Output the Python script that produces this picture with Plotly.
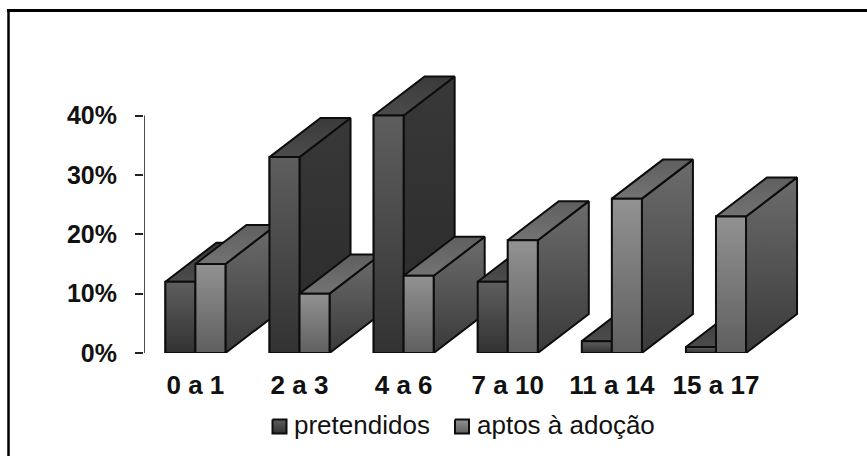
import plotly.graph_objects as go

# Age bands and share of each group (percent)
categories = ["0 a 1", "2 a 3", "4 a 6", "7 a 10", "11 a 14", "15 a 17"]
pretendidos = [12, 33, 40, 12, 2, 1]
aptos = [15, 10, 13, 19, 26, 23]
series_names = ["pretendidos", "aptos à adoção"]
y_ticks = [0, 10, 20, 30, 40]

# Pseudo-3D extrusion, in axis units, and bar width in groups
BAR_W = 0.2885
DEPTH_X = 0.49
DEPTH_Y = 6.58
EDGE = "#0d0d0d"

# Page geometry: the subplots use the page height less a small bottom margin
W, H = 867, 456
M_B = 14
PH = H - M_B
LEFT, RIGHT, TOP, BOTTOM = 144, 800, 74, 353
X_MIN, X_MAX = -0.4937, 5.807
Y_MAX = 47

PALETTE = {
    "dark": dict(front=("#5e5e5e", "#323232"), side=("#383838", "#2a2a2a"), top=("#3a3a3a", "#4c4c4c"), solid="#484848"),
    "light": dict(front=("#929292", "#5f5f5f"), side=("#6c6c6c", "#3a3a3a"), top=("#5f5f5f", "#737373"), solid="#7c7c7c"),
}

fig = go.Figure()


def face(xs, ys, colors, xaxis="x", yaxis="y"):
    """Closed polygon with a vertical gradient running from its top to its bottom."""
    fig.add_trace(go.Scatter(
        x=xs + xs[:1], y=ys + ys[:1], mode="lines", fill="toself", cliponaxis=False,
        line=dict(color=EDGE, width=2.0), showlegend=False, hoverinfo="skip",
        fillgradient=dict(type="vertical", colorscale=[[0, colors[1]], [1, colors[0]]]),
        xaxis=xaxis, yaxis=yaxis,
    ))


def box(x0, value, tone):
    x1 = x0 + BAR_W
    c = PALETTE[tone]
    face([x1, x1 + DEPTH_X, x1 + DEPTH_X, x1], [0, DEPTH_Y, value + DEPTH_Y, value], c["side"])
    face([x0, x0 + DEPTH_X, x1 + DEPTH_X, x1], [value, value + DEPTH_Y, value + DEPTH_Y, value], c["top"])
    face([x0, x1, x1, x0], [0, 0, value, value], c["front"])


# Plain bars hold the values; the extruded faces are painted over them
for name, values, tone, offset in [
    (series_names[0], pretendidos, "dark", -BAR_W),
    (series_names[1], aptos, "light", 0),
]:
    fig.add_trace(go.Bar(
        x=list(range(len(categories))), y=values, name=name, width=BAR_W, offset=offset,
        marker=dict(color=PALETTE[tone]["solid"], line=dict(color=EDGE, width=1.7)),
        hoverinfo="skip", showlegend=False,
    ))

for i in range(len(categories)):
    box(i - BAR_W, pretendidos[i], "dark")
    box(i, aptos[i], "light")

# Vertical axis line stops at the top tick
fig.add_trace(go.Scatter(
    x=[X_MIN, X_MIN], y=[y_ticks[0], y_ticks[-1]], mode="lines",
    line=dict(color="#222222", width=1.6), showlegend=False, hoverinfo="skip", cliponaxis=False,
))

# Legend row: gradient swatch followed by its label, on a hidden page-sized axis pair
for name, tone, left in [(series_names[0], "dark", 272.5), (series_names[1], "light", 455)]:
    face([left, left + 14, left + 14, left], [419.5, 419.5, 433.5, 433.5], PALETTE[tone]["front"], "x2", "y2")
    fig.add_annotation(
        xref="x2", yref="y2", x=left + 19.5, y=425, xanchor="left", yanchor="middle",
        text=name, showarrow=False, font=dict(size=26, family="Liberation Sans", color="#111111"),
    )

fig.update_layout(
    width=W, height=H, margin=dict(l=0, r=0, t=0, b=M_B, pad=0),
    paper_bgcolor="white", plot_bgcolor="rgba(0,0,0,0)", barmode="overlay", showlegend=False,
    font=dict(family="Liberation Sans", color="#111111"),
    xaxis=dict(
        domain=[LEFT / W, RIGHT / W], range=[X_MIN, X_MAX], tickmode="array",
        tickvals=list(range(len(categories))), ticktext=categories, showgrid=False, zeroline=False,
        showline=False, ticks="outside", ticklen=9, tickcolor="rgba(0,0,0,0)",
        tickfont=dict(size=26, family="Liberation Sans", weight="bold"),
    ),
    yaxis=dict(
        domain=[(PH - BOTTOM) / PH, (PH - TOP) / PH], range=[0, Y_MAX], tickmode="array", tickvals=y_ticks,
        ticktext=[f"{v}%" for v in y_ticks], showgrid=False, zeroline=False, showline=False,
        ticks="outside", ticklen=8, tickwidth=1.6, tickcolor="#222222",
        tickfont=dict(size=25, family="Liberation Sans", weight="bold"), ticklabelstandoff=13,
    ),
    xaxis2=dict(domain=[0, 1], range=[0, W], visible=False, anchor="y2", fixedrange=True),
    yaxis2=dict(domain=[0, 1], range=[PH, 0], visible=False, anchor="x2", fixedrange=True),
)

# Outer frame: only the left and top rules fall inside the page
fig.add_shape(type="line", xref="paper", yref="paper", x0=8.5 / W, x1=8.5 / W, y0=-M_B / PH, y1=1 - 9 / PH,
              line=dict(color="black", width=2.5), layer="above")
fig.add_shape(type="line", xref="x2", yref="y2", x0=7, x1=W, y0=10.5, y1=10.5,
              line=dict(color="black", width=3), layer="above")

fig.write_html("out.html")
